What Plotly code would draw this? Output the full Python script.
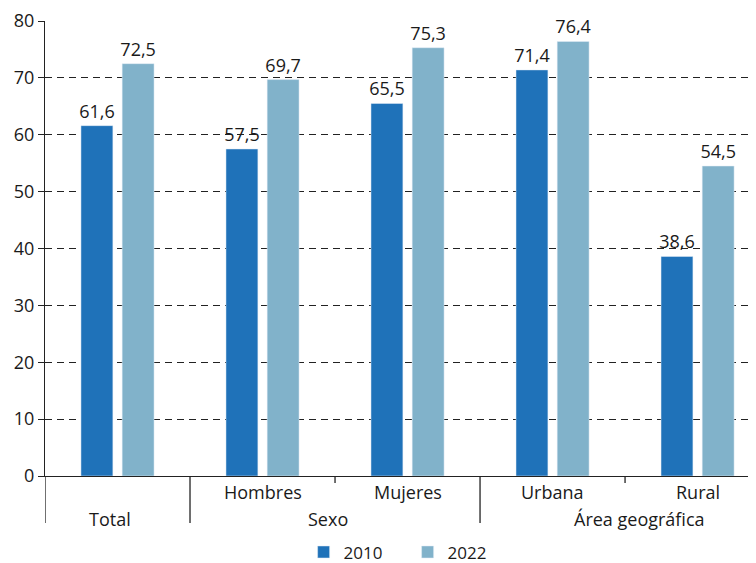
import plotly.graph_objects as go

categories = ["Total", "Hombres", "Mujeres", "Urbana", "Rural"]
cat_labels = ["", "Hombres", "Mujeres", "Urbana", "Rural"]
groups = ["Total", "Sexo", "Área geográfica"]
group_pos = [-0.05, 1.45, 3.6]
series_names = ["2010", "2022"]
v2010 = [61.6, 57.5, 65.5, 71.4, 38.6]
v2022 = [72.5, 69.7, 75.3, 76.4, 54.5]
y_ticks = [0, 10, 20, 30, 40, 50, 60, 70, 80]

C2010 = "#1f72b9"
C2022 = "#81b2ca"
FONT = "Open Sans"
TXT = "#1a1a1a"

def fmt(v):
    return f"{v:.1f}".replace(".", ",")

x = list(range(len(categories)))
fig = go.Figure()
fig.add_bar(x=x, y=v2010, name=series_names[0], marker_color=C2010,
            width=0.22, offset=-0.252,
            text=[fmt(v) for v in v2010], textposition="outside", constraintext="none",
            textfont=dict(size=18, color=TXT, family=FONT), cliponaxis=False)
fig.add_bar(x=x, y=v2022, name=series_names[1], marker_color=C2022,
            width=0.22, offset=0.032,
            text=[fmt(v) for v in v2022], textposition="outside", constraintext="none",
            textfont=dict(size=18, color=TXT, family=FONT), cliponaxis=False)

H = 455.0
annotations = []
for i, lab in enumerate(cat_labels):
    if lab:
        annotations.append(dict(x=i, y=0, xref="x", yref="paper", text=lab, showarrow=False,
                                yshift=-16, yanchor="middle",
                                font=dict(size=18, color=TXT, family=FONT)))
for gx, g in zip(group_pos, groups):
    annotations.append(dict(x=gx, y=0, xref="x", yref="paper", text=g, showarrow=False,
                            yshift=-43, yanchor="middle",
                            font=dict(size=18, color=TXT, family=FONT)))

shapes = []
for sx in [-0.5, 0.5, 2.5]:
    shapes.append(dict(type="line", xref="x", yref="paper", x0=sx, x1=sx, y0=0, y1=-47 / H,
                       line=dict(color="#222", width=1.3)))
for sx in [1.5, 3.5]:
    shapes.append(dict(type="line", xref="x", yref="paper", x0=sx, x1=sx, y0=0, y1=-7 / H,
                       line=dict(color="#222", width=1.3)))

fig.update_layout(
    width=748, height=555,
    margin=dict(l=37, r=0, t=13, b=87, autoexpand=False),
    plot_bgcolor="white", paper_bgcolor="white",
    font=dict(family=FONT, size=18, color=TXT),
    barmode="group",
    showlegend=True,
    legend=dict(orientation="h", x=0.51, xanchor="center", y=-0.168, yanchor="middle",
                font=dict(size=17, color=TXT, family=FONT),
                entrywidth=59, entrywidthmode="pixels"),
    annotations=annotations,
    shapes=shapes,
)
fig.update_xaxes(range=[-0.5, 4.403], showticklabels=False, showgrid=False, zeroline=False,
                 showline=True, linecolor="#222", linewidth=1.3, ticks="", automargin=False)
fig.update_yaxes(range=[0, 80], tickvals=y_ticks, showgrid=True, gridcolor="#222",
                 griddash="7px,5px", gridwidth=1, zeroline=False, automargin=False,
                 showline=True, linecolor="#222", linewidth=1.3,
                 ticks="outside", ticklen=6, tickcolor="#222",
                 tickfont=dict(size=18, color=TXT, family=FONT))

fig.write_html("out.html")
